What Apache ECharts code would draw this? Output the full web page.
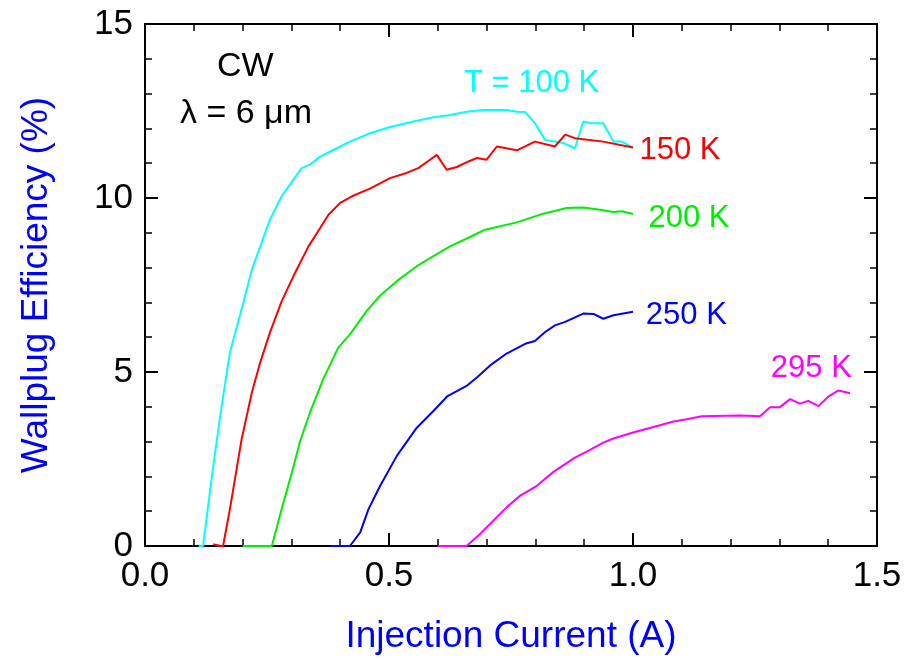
<!DOCTYPE html>
<html>
<head>
<meta charset="utf-8">
<script src="https://cdn.jsdelivr.net/npm/echarts@6/dist/echarts.min.js"></script>
<style>html,body{margin:0;padding:0;background:#fff}#c{width:916px;height:660px}</style>
</head>
<body>
<div id="c"></div>
<script>
// Data (x: injection current A, y: wallplug efficiency %)
const t100K = [[0.11,0],[0.119,0],[0.138,2.1],[0.157,4.02],[0.174,5.56],[0.2015,6.99],[0.219,7.94],[0.256,9.38],[0.280,10.05],[0.321,10.86],[0.338,10.96],[0.359,11.19],[0.393,11.43],[0.420,11.62],[0.461,11.86],[0.502,12.04],[0.550,12.20],[0.591,12.32],[0.622,12.38],[0.659,12.48],[0.693,12.53],[0.741,12.53],[0.762,12.48],[0.779,12.47],[0.799,12.15],[0.820,11.67],[0.857,11.58],[0.881,11.43],[0.898,12.20],[0.915,12.15],[0.939,12.15],[0.960,11.62],[0.977,11.62],[1.0,11.45]];
const t150K = [[0.14,0.05],[0.155,0],[0.16,0],[0.174,1.06],[0.198,3.07],[0.219,4.41],[0.236,5.27],[0.256,6.13],[0.280,7.03],[0.304,7.75],[0.335,8.61],[0.359,9.14],[0.376,9.52],[0.40,9.86],[0.424,10.05],[0.461,10.27],[0.502,10.57],[0.536,10.72],[0.560,10.86],[0.584,11.10],[0.598,11.24],[0.618,10.81],[0.639,10.89],[0.663,11.05],[0.680,11.15],[0.700,11.10],[0.721,11.48],[0.762,11.37],[0.799,11.62],[0.840,11.48],[0.861,11.82],[0.881,11.72],[0.939,11.62],[1.0,11.45]];
const t200K = [[0.20,0],[0.24,0],[0.26,0],[0.280,1.06],[0.301,2.11],[0.318,3.02],[0.338,3.83],[0.365,4.79],[0.396,5.70],[0.420,6.08],[0.454,6.75],[0.482,7.20],[0.516,7.61],[0.557,8.04],[0.591,8.33],[0.625,8.61],[0.666,8.88],[0.697,9.09],[0.762,9.30],[0.816,9.55],[0.864,9.71],[0.898,9.73],[0.932,9.66],[0.960,9.60],[0.977,9.62],[1.0,9.54]];
const t250K = [[0.38,0],[0.40,0],[0.42,0],[0.441,0.39],[0.458,1.06],[0.482,1.73],[0.516,2.59],[0.557,3.40],[0.591,3.88],[0.620,4.31],[0.659,4.60],[0.683,4.88],[0.710,5.22],[0.741,5.53],[0.779,5.81],[0.799,5.89],[0.820,6.15],[0.840,6.34],[0.861,6.44],[0.898,6.68],[0.919,6.67],[0.939,6.53],[0.960,6.63],[1.0,6.73]];
const t295K = [[0.60,0],[0.62,0],[0.659,0],[0.686,0.34],[0.707,0.63],[0.741,1.11],[0.768,1.44],[0.803,1.73],[0.837,2.13],[0.881,2.54],[0.912,2.76],[0.939,2.97],[0.960,3.09],[1.0,3.26],[1.042,3.42],[1.083,3.58],[1.110,3.64],[1.141,3.73],[1.219,3.75],[1.260,3.73],[1.281,3.99],[1.301,3.99],[1.322,4.22],[1.342,4.09],[1.359,4.17],[1.380,4.02],[1.400,4.29],[1.421,4.47],[1.445,4.39]];

const seriesNames = ['T = 100 K','150 K','200 K','250 K','295 K'];
const seriesData = [t100K, t150K, t200K, t250K, t295K];
const seriesColors = ['#00ffff','#ff0000','#00ee00','#0000ff','#ff00ff'];

const xTicks = {min: 0, max: 1.5, interval: 0.5};
const yTicks = {min: 0, max: 15, interval: 5};

const FONT = '"Liberation Sans", Arial, Helvetica, sans-serif';
const chart = echarts.init(document.getElementById('c'), null, {renderer: 'canvas'});

function axisBase(pos) {
  return {
    axisLine: {show: true, onZero: false, lineStyle: {color: '#000', width: 2}},
    axisTick: {show: true, inside: true, length: 13, lineStyle: {color: '#000', width: 2}},
    minorTick: {show: true, splitNumber: 5, length: 7, lineStyle: {color: '#000', width: 1.5}},
    splitLine: {show: false},
    position: pos
  };
}

const annotations = [
  {text: 'CW', x: 217, y: 67, size: 34, color: '#000'},
  {text: 'λ = 6 μm', x: 180, y: 114, size: 34, color: '#000'},
  {text: 'T = 100 K', x: 464, y: 83, size: 31, color: seriesColors[0]},
  {text: '150 K', x: 639.5, y: 150, size: 31, color: seriesColors[1]},
  {text: '200 K', x: 648.5, y: 218, size: 31, color: seriesColors[2]},
  {text: '250 K', x: 645.8, y: 315, size: 31, color: seriesColors[3]},
  {text: '295 K', x: 770.8, y: 368.4, size: 31, color: seriesColors[4]}
];

const option = {
  backgroundColor: '#fff',
  animation: false,
  grid: {left: 145, right: 39, top: 24, bottom: 113, containLabel: false},
  xAxis: [
    Object.assign(axisBase('bottom'), {
      type: 'value', min: xTicks.min, max: xTicks.max, interval: xTicks.interval,
      name: 'Injection Current (A)', nameLocation: 'middle', nameGap: 72,
      nameTextStyle: {color: '#0000ff', fontSize: 37, fontFamily: FONT},
      axisLabel: {show: true, margin: 13, color: '#000', fontSize: 35, fontFamily: FONT,
        formatter: v => v.toFixed(1)}
    }),
    Object.assign(axisBase('top'), {
      type: 'value', min: xTicks.min, max: xTicks.max, interval: xTicks.interval,
      axisLabel: {show: false}
    })
  ],
  yAxis: [
    Object.assign(axisBase('left'), {
      type: 'value', min: yTicks.min, max: yTicks.max, interval: yTicks.interval,
      name: 'Wallplug Efficiency (%)', nameLocation: 'middle', nameGap: 90,
      nameTextStyle: {color: '#0000ff', fontSize: 37, fontFamily: FONT},
      axisLabel: {show: true, margin: 12, color: '#000', fontSize: 35, fontFamily: FONT}
    }),
    Object.assign(axisBase('right'), {
      type: 'value', min: yTicks.min, max: yTicks.max, interval: yTicks.interval,
      axisLabel: {show: false}
    })
  ],
  series: seriesData.map((d, i) => ({
    name: seriesNames[i], type: 'line', data: d, xAxisIndex: 0, yAxisIndex: 0,
    showSymbol: false, symbol: 'none', clip: true,
    lineStyle: {color: seriesColors[i], width: 2}, z: 1
  })),
  graphic: annotations.map(a => ({
    type: 'text', x: a.x, y: a.y, z: 10,
    style: {text: a.text, fill: a.color, font: a.size + 'px ' + FONT,
      textAlign: 'left', textVerticalAlign: 'middle', verticalAlign: 'middle'}
  }))
};
chart.setOption(option);
</script>
</body>
</html>
